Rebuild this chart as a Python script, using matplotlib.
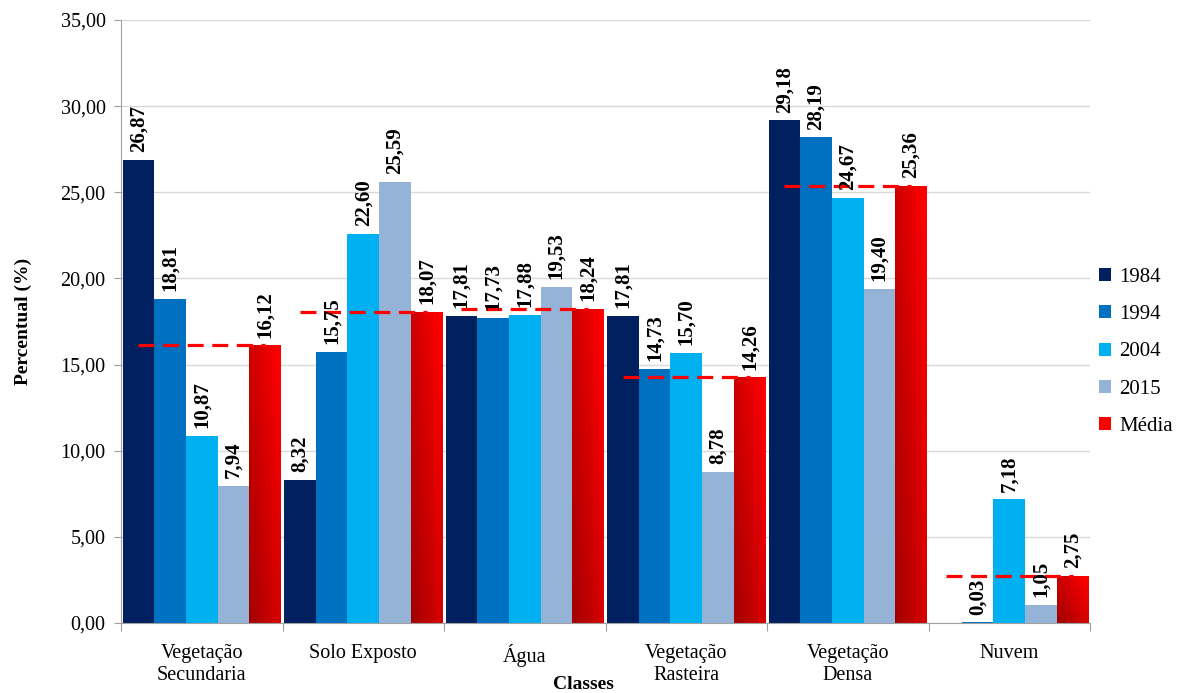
import numpy as np
import matplotlib.pyplot as plt
from matplotlib.ticker import FuncFormatter, MultipleLocator
from matplotlib.colors import to_rgb

plt.rcParams['font.family'] = ['Liberation Serif', 'DejaVu Serif']

classes = ['Vegetação\nSecundaria', 'Solo Exposto', 'Água', 'Vegetação\nRasteira', 'Vegetação\nDensa', 'Nuvem']
series_names = ['1984', '1994', '2004', '2015', 'Média']
v1984 = [26.87, 8.32, 17.81, 17.81, 29.18, 0.00]
v1994 = [18.81, 15.75, 17.73, 14.73, 28.19, 0.03]
v2004 = [10.87, 22.60, 17.88, 15.70, 24.67, 7.18]
v2015 = [7.94, 25.59, 19.53, 8.78, 19.40, 1.05]
media = [16.12, 18.07, 18.24, 14.26, 25.36, 2.75]
colors = ['#002060', '#0070C0', '#00B0F0', '#95B3D7', '#FF0000']

all_series = [v1984, v1994, v2004, v2015, media]

fig = plt.figure(figsize=(11.9, 6.93), dpi=100)
ax = fig.add_axes([121 / 1190, 1 - 623 / 693, (1090 - 121) / 1190, (623 - 20) / 693])

x = np.arange(len(classes))
bw = 0.196
offsets = (np.arange(5) - 2) * bw

def fmt(v):
    return f'{v:.2f}'.replace('.', ',')

for j, (name, vals) in enumerate(zip(series_names, all_series)):
    bars = ax.bar(x + offsets[j], vals, width=bw, color=colors[j], label=name, zorder=2)
    if name == 'Média':
        # gradient: dark red at bottom left, bright red at top right
        dark = np.array(to_rgb('#A00000'))
        bright = np.array(to_rgb('#FF0000'))
        for b in bars:
            x0, w, h = b.get_x(), b.get_width(), b.get_height()
            u = np.linspace(0, 1, 60)[None, :]
            vv = np.linspace(0, 1, 100)[:, None]
            t = np.clip(0.6 * (1 - u) + 0.45 * (1 - vv) - 0.05, 0, 1)
            img = bright[None, None, :] * (1 - t[..., None]) + dark[None, None, :] * t[..., None]
            im = ax.imshow(img, extent=(x0, x0 + w, 0, h), origin='lower',
                           aspect='auto', interpolation='bilinear', zorder=2.5)
            im.set_clip_path(b)
    for xi, v in zip(x + offsets[j], vals):
        if v == 0:
            continue
        ax.text(xi, v + 0.45, fmt(v), rotation=90, ha='center', va='bottom',
                fontsize=15, fontweight='bold', zorder=4)

# average reference lines
for i, m in enumerate(media):
    ax.plot([x[i] + offsets[0], x[i] + offsets[4]], [m, m], color='#FF0000',
            linewidth=2.3, dashes=(5, 2.7), zorder=3)

ax.set_xlim(-0.5, len(classes) - 0.5)
ax.set_ylim(0, 35)
ax.yaxis.set_major_locator(MultipleLocator(5))
ax.yaxis.set_major_formatter(FuncFormatter(lambda v, p: fmt(v)))
ax.grid(axis='y', color='#D9D9D9', linewidth=1, zorder=0)
ax.set_axisbelow(True)

ax.set_xticks(np.arange(len(classes) + 1) - 0.5)
ax.set_xticklabels([])
ax.set_xticks(x, minor=True)
ax.set_xticklabels(classes, minor=True, fontsize=14.5)
ax.tick_params(axis='x', which='minor', length=0, pad=15)
ax.tick_params(axis='x', which='major', length=6, color='#A0A0A0')
ax.tick_params(axis='y', length=5, color='#A0A0A0', labelsize=14.5, pad=6)

for s in ['top', 'right']:
    ax.spines[s].set_visible(False)
for s in ['left', 'bottom']:
    ax.spines[s].set_color('#A0A0A0')

ax.set_ylabel('Percentual (%)', fontsize=14, fontweight='bold')
ax.yaxis.set_label_coords(-0.092, 0.5)
ax.set_xlabel('Classes', fontsize=14, fontweight='bold')
ax.xaxis.set_label_coords((583 - 121) / (1090 - 121), -0.088)

ax.legend(loc='center left', bbox_to_anchor=(1080 / 1190, 1 - 352 / 693),
          bbox_transform=fig.transFigure, frameon=False, fontsize=15,
          handlelength=0.6, handleheight=0.6, handletextpad=0.4, labelspacing=0.88)

plt.savefig('out.png', dpi=100)
